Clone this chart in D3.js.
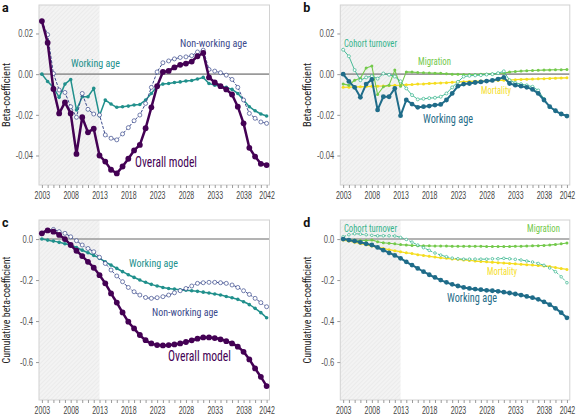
<!DOCTYPE html>
<html><head><meta charset="utf-8">
<script src="https://cdn.jsdelivr.net/npm/d3@7"></script>
<style>
body{margin:0;background:#fff;}
svg{display:block;font-family:"Roboto Condensed","Liberation Sans Narrow","Roboto",sans-serif;}
</style></head><body>
<svg id="chart" width="576" height="415"></svg>
<script>
const years = d3.range(2003, 2043);
const tickYears = [2003,2008,2013,2018,2023,2028,2033,2038,2042];
const annualTicks = [0.02, 0.00, -0.02, -0.04];
const annualTickLabels = ["0.02","0.00","-0.02","-0.04"];
const cumTicks = [0.0, -0.2, -0.4, -0.6];
const cumTickLabels = ["0.0","-0.2","-0.4","-0.6"];

// Panel a / b : annual beta-coefficients
const overallAnnual = [0.0261,0.0155,-0.0073,-0.0193,-0.0139,-0.0193,-0.0392,-0.0212,-0.0286,-0.0268,
  -0.0400,-0.0430,-0.0470,-0.0488,-0.0454,-0.0416,-0.0375,-0.0348,-0.0266,-0.0163,
  -0.0059,0.0011,0.0016,0.0033,0.0046,0.0052,0.0062,0.0088,0.0104,-0.0016,
  -0.0041,-0.0059,-0.0075,-0.0100,-0.0160,-0.0242,-0.0362,-0.0405,-0.0441,-0.0447];
const nonWorkingAnnual = [0.0260,0.0194,0.0003,-0.0078,-0.0090,-0.0160,-0.0212,-0.0095,-0.0173,-0.0196,
  -0.0201,-0.0299,-0.0315,-0.0323,-0.0294,-0.0263,-0.0229,-0.0201,-0.0144,-0.0065,
  0.0011,0.0056,0.0065,0.0075,0.0082,0.0085,0.0091,0.0109,0.0118,0.0023,
  0.0015,0.0007,-0.0005,-0.0026,-0.0065,-0.0127,-0.0193,-0.0217,-0.0235,-0.0242];
const workingAnnual = [0.0000,-0.0036,-0.0065,-0.0114,-0.0049,-0.0026,-0.0176,-0.0111,-0.0111,-0.0070,
  -0.0204,-0.0127,-0.0147,-0.0163,-0.0160,-0.0157,-0.0152,-0.0149,-0.0127,-0.0095,
  -0.0059,-0.0049,-0.0046,-0.0041,-0.0038,-0.0034,-0.0031,-0.0024,-0.0016,-0.0046,
  -0.0054,-0.0059,-0.0065,-0.0075,-0.0095,-0.0127,-0.0160,-0.0180,-0.0196,-0.0206];
const cohortAnnual = [0.0120,0.0088,0.0020,-0.0030,-0.0016,-0.0010,-0.0022,0.0003,-0.0003,-0.0012,
  -0.0035,-0.0070,-0.0103,-0.0124,-0.0121,-0.0118,-0.0116,-0.0111,-0.0095,-0.0065,
  -0.0038,-0.0012,-0.0008,-0.0006,-0.0005,-0.0002,0.0000,0.0005,0.0014,-0.0030,
  -0.0043,-0.0049,-0.0055,-0.0062,-0.0080,-0.0122,-0.0162,-0.0180,-0.0196,-0.0205];
const migrationAnnual = [-0.0049,-0.0054,-0.0030,-0.0020,0.0030,0.0040,-0.0100,-0.0062,-0.0054,0.0020,
  -0.0060,0.0011,0.0010,0.0008,0.0007,0.0006,0.0005,0.0004,0.0002,0.0000,
  -0.0001,-0.0002,-0.0002,-0.0002,-0.0001,0.0000,0.0001,0.0003,0.0006,0.0010,
  0.0013,0.0015,0.0017,0.0018,0.0019,0.0020,0.0021,0.0022,0.0022,0.0023];
const mortalityAnnual = [-0.0065,-0.0064,-0.0063,-0.0062,-0.0061,-0.0060,-0.0059,-0.0058,-0.0056,-0.0055,
  -0.0054,-0.0052,-0.0051,-0.0049,-0.0048,-0.0046,-0.0045,-0.0043,-0.0042,-0.0040,
  -0.0038,-0.0037,-0.0036,-0.0035,-0.0034,-0.0033,-0.0032,-0.0031,-0.0030,-0.0029,
  -0.0027,-0.0026,-0.0025,-0.0024,-0.0023,-0.0022,-0.0021,-0.0020,-0.0019,-0.0018];

// Panel c / d : cumulative beta-coefficients
const overallCum = [0.028,0.042,0.036,0.020,0.000,-0.029,-0.057,-0.083,-0.111,-0.140,
  -0.176,-0.216,-0.265,-0.310,-0.358,-0.403,-0.436,-0.468,-0.493,-0.509,
  -0.517,-0.519,-0.517,-0.514,-0.509,-0.502,-0.494,-0.486,-0.480,-0.480,
  -0.483,-0.489,-0.498,-0.509,-0.525,-0.550,-0.587,-0.631,-0.672,-0.717];
const nonWorkingCum = [0.026,0.042,0.047,0.036,0.028,0.011,-0.008,-0.029,-0.046,-0.062,
  -0.089,-0.119,-0.151,-0.180,-0.208,-0.236,-0.257,-0.273,-0.285,-0.289,
  -0.286,-0.281,-0.273,-0.262,-0.252,-0.241,-0.229,-0.216,-0.213,-0.211,
  -0.211,-0.213,-0.216,-0.224,-0.236,-0.252,-0.270,-0.289,-0.310,-0.330];
const workingCum = [0.000,-0.005,-0.010,-0.016,-0.023,-0.029,-0.041,-0.054,-0.067,-0.080,
  -0.094,-0.111,-0.127,-0.143,-0.159,-0.174,-0.187,-0.200,-0.211,-0.221,
  -0.229,-0.236,-0.241,-0.244,-0.247,-0.250,-0.252,-0.255,-0.259,-0.263,
  -0.268,-0.273,-0.280,-0.286,-0.294,-0.306,-0.320,-0.338,-0.359,-0.384];
const cohortCum = [0.011,0.021,0.026,0.024,0.021,0.018,0.016,0.016,0.016,0.015,
  0.008,-0.002,-0.015,-0.029,-0.042,-0.055,-0.068,-0.078,-0.086,-0.093,
  -0.096,-0.098,-0.098,-0.098,-0.098,-0.098,-0.096,-0.096,-0.094,-0.096,
  -0.099,-0.102,-0.107,-0.112,-0.119,-0.128,-0.141,-0.159,-0.184,-0.213];
const migrationCum = [0.000,-0.003,-0.005,-0.007,-0.007,-0.005,-0.013,-0.018,-0.021,-0.023,
  -0.027,-0.029,-0.031,-0.032,-0.033,-0.033,-0.034,-0.034,-0.034,-0.035,
  -0.035,-0.035,-0.035,-0.035,-0.035,-0.036,-0.036,-0.036,-0.036,-0.036,
  -0.035,-0.035,-0.034,-0.033,-0.032,-0.031,-0.029,-0.026,-0.023,-0.019];
const mortalityCum = [-0.004,-0.010,-0.016,-0.022,-0.028,-0.034,-0.040,-0.046,-0.052,-0.057,
  -0.062,-0.067,-0.071,-0.076,-0.080,-0.084,-0.088,-0.091,-0.094,-0.097,
  -0.099,-0.102,-0.104,-0.107,-0.109,-0.111,-0.113,-0.115,-0.117,-0.119,
  -0.121,-0.123,-0.125,-0.127,-0.129,-0.131,-0.134,-0.139,-0.144,-0.148];

const C = {
  overall:"#440154", nonworking:"#3b4a8c", working:"#21908c", workingDark:"#1f6c89",
  cohort:"#35b48c", migration:"#73c94b", mortality:"#f5dd1f"
};

const svg = d3.select("#chart");
const defs = svg.append("defs");
const pat = defs.append("pattern").attr("id","hatch").attr("patternUnits","userSpaceOnUse")
  .attr("width",3).attr("height",3).attr("patternTransform","rotate(45)");
pat.append("rect").attr("width",3).attr("height",3).attr("fill","#f3f3f3");
pat.append("line").attr("x1",0).attr("y1",0).attr("x2",0).attr("y2",3).attr("stroke","#e4e4e4").attr("stroke-width",1);

function condense(sel, f) {
  sel.each(function () {
    const n = this, L = n.getComputedTextLength();
    if (L > 0) d3.select(n).attr("textLength", L * f).attr("lengthAdjust", "spacingAndGlyphs");
  });
}

const panels = [
  {letter:"a", x0:39, x1:269.5, y0:5, y1:185, dom:[-0.0545,0.034], ticks:annualTicks, tl:annualTickLabels, title:"Beta-coefficient", tw:64, smooth:false,
   series:[
     {v:workingAnnual, c:C.working, w:1.5, r:1.8, fill:C.working},
     {v:nonWorkingAnnual, c:C.nonworking, w:1, r:2.0, fill:"#fff", dash:"3,1.5"},
     {v:overallAnnual, c:C.overall, w:2.5, r:2.9, fill:C.overall}],
   labels:[
     {t:"Working age", x:71, y:67, c:C.working, s:11.5, w:49},
     {t:"Non-working age", x:180, y:47, c:C.nonworking, s:11.5, w:67},
     {t:"Overall model", x:135, y:167, c:C.overall, s:14, w:62}]},
  {letter:"b", x0:340.3, x1:569.8, y0:5, y1:185, dom:[-0.0545,0.034], ticks:annualTicks, tl:annualTickLabels, title:"Beta-coefficient", tw:64, smooth:false,
   series:[
     {v:mortalityAnnual, c:C.mortality, w:1.3, r:1.5, fill:C.mortality},
     {v:migrationAnnual, c:C.migration, w:1.1, r:1.5, fill:C.migration},
     {v:cohortAnnual, c:C.cohort, w:0.9, r:1.5, fill:"#fff"},
     {v:workingAnnual, c:C.workingDark, w:2, r:2.4, fill:C.workingDark}],
   labels:[
     {t:"Cohort turnover", x:344, y:47, c:C.cohort, s:11, w:53},
     {t:"Migration", x:418, y:65, c:C.migration, s:11, w:33},
     {t:"Mortality", x:481, y:94, c:C.mortality, s:11, w:30},
     {t:"Working age", x:423, y:123, c:C.workingDark, s:13, w:50}]},
  {letter:"c", x0:39, x1:269.5, y0:220, y1:400, dom:[-0.785,0.093], ticks:cumTicks, tl:cumTickLabels, title:"Cumulative beta-coefficient", tw:107, smooth:true,
   series:[
     {v:workingCum, c:C.working, w:1.5, r:1.8, fill:C.working},
     {v:nonWorkingCum, c:C.nonworking, w:1, r:2.0, fill:"#fff", dash:"3,1.5"},
     {v:overallCum, c:C.overall, w:2.5, r:2.9, fill:C.overall}],
   labels:[
     {t:"Working age", x:129, y:267, c:C.working, s:11.5, w:49},
     {t:"Non-working age", x:152, y:316, c:C.nonworking, s:11.5, w:66},
     {t:"Overall model", x:168, y:361, c:C.overall, s:14, w:63}]},
  {letter:"d", x0:340.3, x1:569.8, y0:220, y1:400, dom:[-0.785,0.093], ticks:cumTicks, tl:cumTickLabels, title:"Cumulative beta-coefficient", tw:107, smooth:true,
   series:[
     {v:mortalityCum, c:C.mortality, w:1.3, r:1.5, fill:C.mortality},
     {v:migrationCum, c:C.migration, w:1.1, r:1.5, fill:C.migration},
     {v:cohortCum, c:C.cohort, w:0.9, r:1.3, fill:"#fff", dash:"3,1.5"},
     {v:workingCum, c:C.workingDark, w:2, r:2.4, fill:C.workingDark}],
   labels:[
     {t:"Cohort turnover", x:344, y:232, c:C.cohort, s:11, w:53},
     {t:"Migration", x:527, y:232, c:C.migration, s:11, w:33},
     {t:"Mortality", x:487, y:275, c:C.mortality, s:11, w:30},
     {t:"Working age", x:447, y:302, c:C.workingDark, s:13, w:50}]}
];

panels.forEach(p => {
  const x = d3.scaleLinear().domain([2002.5, 2042.5]).range([p.x0, p.x1]);
  const y = d3.scaleLinear().domain(p.dom).range([p.y1, p.y0]);
  const g = svg.append("g");
  g.append("rect").attr("x", p.x0).attr("y", p.y0).attr("width", x(2013) - p.x0).attr("height", p.y1 - p.y0)
    .attr("fill", "url(#hatch)");
  g.append("line").attr("x1", p.x0).attr("x2", p.x1).attr("y1", y(0)).attr("y2", y(0))
    .attr("stroke", "#9a9a9a").attr("stroke-width", 1.6);
  g.append("rect").attr("x", p.x0).attr("y", p.y0).attr("width", p.x1 - p.x0).attr("height", p.y1 - p.y0)
    .attr("fill", "none").attr("stroke", "#d2d2d2").attr("stroke-width", 1);
  const ya = d3.axisLeft(y).tickValues(p.ticks).tickFormat((d,i) => p.tl[i]).tickSize(3).tickPadding(3);
  const yg = g.append("g").attr("transform", `translate(${p.x0},0)`).call(ya);
  yg.select(".domain").remove();
  yg.selectAll("line").attr("stroke", "#9a9a9a");
  yg.selectAll("text").attr("fill", "#555").style("font-size", "10px");
  condense(yg.selectAll("text"), 0.76);
  const xa = d3.axisBottom(x).tickValues(years).tickSize(3)
    .tickFormat(d => tickYears.includes(d) ? String(d) : "").tickPadding(4);
  const xg = g.append("g").attr("transform", `translate(0,${p.y1})`).call(xa);
  xg.select(".domain").remove();
  xg.selectAll("line").attr("stroke", "#9a9a9a");
  // condensed year labels: horizontal scale around the tick position
  xg.selectAll("text").attr("fill", "#444").style("font-size", "10px").attr("transform", "scale(0.7,1)");
  g.append("text").attr("transform", `translate(${p.x0 - 29},${(p.y0 + p.y1) / 2}) rotate(-90)`)
    .attr("text-anchor", "middle").attr("fill", "#222").style("font-size", "11px").text(p.title)
    .attr("textLength", p.tw).attr("lengthAdjust", "spacingAndGlyphs");
  g.append("text").attr("x", p.x0 - 37).attr("y", p.y0 + 7).attr("fill", "#111")
    .style("font-size", "12.5px").style("font-weight", "bold").style("font-family", "Roboto, sans-serif").text(p.letter);
  const line = d3.line().x((d, i) => x(years[i])).y(d => y(d))
    .curve(p.smooth ? d3.curveMonotoneX : d3.curveLinear);
  p.series.forEach(s => {
    const sg = g.append("g");
    sg.append("path").datum(s.v).attr("d", line).attr("fill", "none")
      .attr("stroke", s.c).attr("stroke-width", s.w).attr("stroke-linejoin", "round")
      .attr("stroke-dasharray", s.dash || null);
    sg.selectAll("circle").data(s.v).join("circle")
      .attr("cx", (d, i) => x(years[i])).attr("cy", d => y(d)).attr("r", s.r)
      .attr("fill", s.fill).attr("stroke", s.c).attr("stroke-width", s.fill === "#fff" ? 0.7 : 0);
  });
  p.labels.forEach(l => {
    g.append("text").attr("x", l.x).attr("y", l.y).attr("fill", l.c)
      .style("font-size", l.s + "px").text(l.t)
      .attr("textLength", l.w).attr("lengthAdjust", "spacingAndGlyphs");
  });
});
</script></body></html>
